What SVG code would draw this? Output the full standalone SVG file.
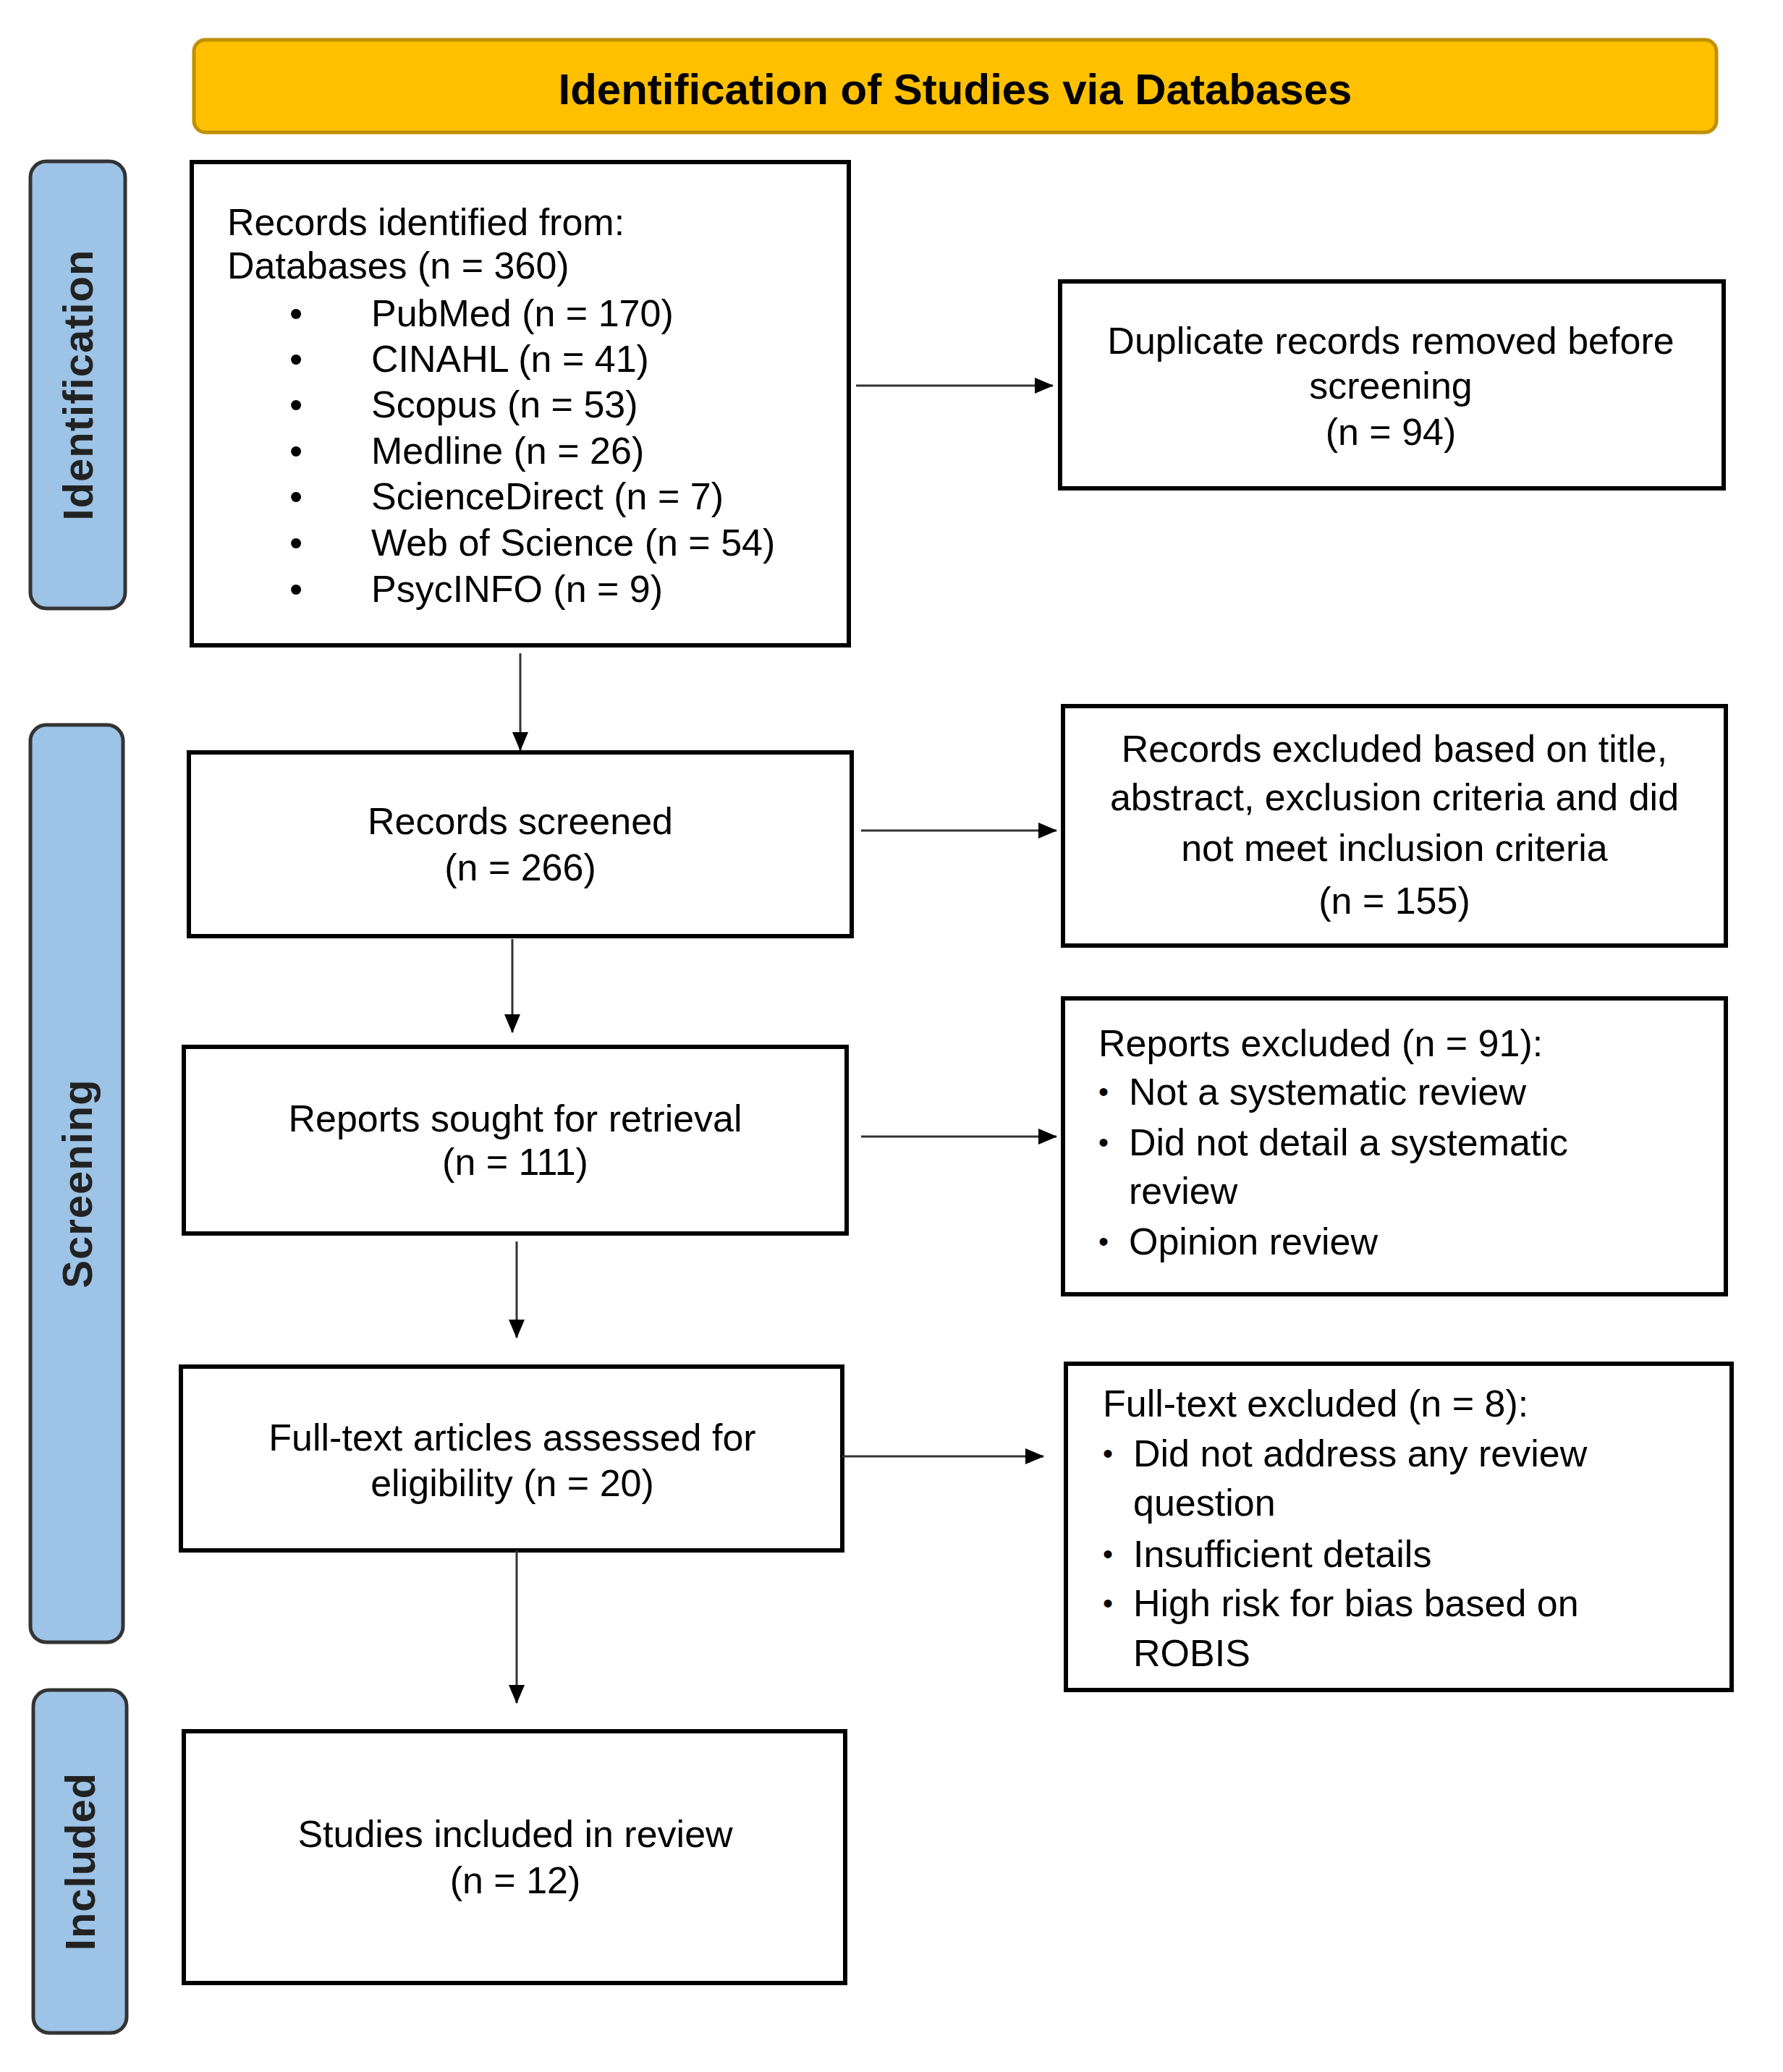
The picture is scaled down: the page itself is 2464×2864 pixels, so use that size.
<svg xmlns="http://www.w3.org/2000/svg" width="2464" height="2864" viewBox="0 0 2464 2864">
<style>
.box{fill:#fff;stroke:#000;stroke-width:6}
.side{fill:#9DC3E6;stroke:#333;stroke-width:5}
.t{font-family:"Liberation Sans",Arial,sans-serif;font-size:52px;fill:#000}
.c{text-anchor:middle}
.sl{font-family:"Liberation Sans",Arial,sans-serif;font-size:58px;font-weight:bold;fill:#222;text-anchor:middle;letter-spacing:1px}
.con{stroke:#333;stroke-width:3;fill:none;marker-end:url(#ah)}
.sb{font-size:40px}
</style>
<defs>
<marker id="ah" markerUnits="userSpaceOnUse" markerWidth="26" markerHeight="26" viewBox="0 0 26 26" refX="25" refY="13" orient="auto">
<path d="M0,2 L26,13 L0,24 Z" fill="#000"/>
</marker>
</defs>
<rect width="2464" height="2864" fill="#fff"/>
<g id="banner">
<rect x="268" y="55" width="2104" height="128" rx="16" fill="#FFC000" stroke="#BF9000" stroke-width="5"/>
<text x="1320" y="144" font-family="Liberation Sans,Arial,sans-serif" font-size="60" font-weight="bold" text-anchor="middle" fill="#000">Identification of Studies via Databases</text>
</g>
<g id="side-identification">
<rect class="side" x="42" y="223" width="131" height="618" rx="22"/>
<text class="sl" x="107" y="553" transform="rotate(-90 107 532)">Identification</text>
</g>
<g id="side-screening">
<rect class="side" x="42" y="1002" width="128" height="1268" rx="22"/>
<text class="sl" x="106" y="1657" transform="rotate(-90 106 1636)">Screening</text>
</g>
<g id="side-included">
<rect class="side" x="46" y="2336" width="129" height="474" rx="22"/>
<text class="sl" x="110" y="2594" transform="rotate(-90 110 2573)">Included</text>
</g>
<g id="records-identified">
<rect class="box" x="265" y="224" width="908" height="668"/>
<text class="t" x="314" y="325">Records identified from:</text>
<text class="t" x="314" y="385">Databases (n = 360)</text>
<text class="t" x="400" y="451">•</text><text class="t" x="513" y="451">PubMed (n = 170)</text>
<text class="t" x="400" y="514">•</text><text class="t" x="513" y="514">CINAHL (n = 41)</text>
<text class="t" x="400" y="577">•</text><text class="t" x="513" y="577">Scopus (n = 53)</text>
<text class="t" x="400" y="641">•</text><text class="t" x="513" y="641">Medline (n = 26)</text>
<text class="t" x="400" y="704">•</text><text class="t" x="513" y="704">ScienceDirect (n = 7)</text>
<text class="t" x="400" y="768">•</text><text class="t" x="513" y="768">Web of Science (n = 54)</text>
<text class="t" x="400" y="832">•</text><text class="t" x="513" y="832">PsycINFO (n = 9)</text>
</g>
<g id="duplicates">
<rect class="box" x="1465" y="389" width="917" height="286"/>
<text class="t c" x="1922" y="489">Duplicate records removed before</text>
<text class="t c" x="1922" y="551">screening</text>
<text class="t c" x="1922" y="615">(n = 94)</text>
</g>
<g id="records-screened">
<rect class="box" x="261" y="1040" width="916" height="254"/>
<text class="t c" x="719" y="1153">Records screened</text>
<text class="t c" x="719" y="1217">(n = 266)</text>
</g>
<g id="records-excluded">
<rect class="box" x="1469" y="976" width="916" height="331"/>
<text class="t c" x="1927" y="1053">Records excluded based on title,</text>
<text class="t c" x="1927" y="1120">abstract, exclusion criteria and did</text>
<text class="t c" x="1927" y="1190">not meet inclusion criteria</text>
<text class="t c" x="1927" y="1263">(n = 155)</text>
</g>
<g id="reports-sought">
<rect class="box" x="254" y="1447" width="916" height="258"/>
<text class="t c" x="712" y="1564">Reports sought for retrieval</text>
<text class="t c" x="712" y="1624">(n = 111)</text>
</g>
<g id="reports-excluded">
<rect class="box" x="1469" y="1380" width="916" height="409"/>
<text class="t" x="1518" y="1460">Reports excluded (n = 91):</text>
<text class="t sb" x="1518" y="1523">•</text><text class="t" x="1560" y="1527">Not a systematic review</text>
<text class="t sb" x="1518" y="1593">•</text><text class="t" x="1560" y="1597">Did not detail a systematic</text>
<text class="t" x="1560" y="1664">review</text>
<text class="t sb" x="1518" y="1730">•</text><text class="t" x="1560" y="1734">Opinion review</text>
</g>
<g id="fulltext-assessed">
<rect class="box" x="250" y="1889" width="914" height="254"/>
<text class="t c" x="708" y="2005">Full-text articles assessed for</text>
<text class="t c" x="708" y="2068">eligibility (n = 20)</text>
</g>
<g id="fulltext-excluded">
<rect class="box" x="1473" y="1885" width="920" height="451"/>
<text class="t" x="1524" y="1958">Full-text excluded (n = 8):</text>
<text class="t sb" x="1524" y="2023">•</text><text class="t" x="1566" y="2027">Did not address any review</text>
<text class="t" x="1566" y="2095">question</text>
<text class="t sb" x="1524" y="2162">•</text><text class="t" x="1566" y="2166">Insufficient details</text>
<text class="t sb" x="1524" y="2230">•</text><text class="t" x="1566" y="2234">High risk for bias based on</text>
<text class="t" x="1566" y="2303">ROBIS</text>
</g>
<g id="studies-included">
<rect class="box" x="254" y="2393" width="914" height="348"/>
<text class="t c" x="712" y="2553">Studies included in review</text>
<text class="t c" x="712" y="2617">(n = 12)</text>
</g>
<g id="connectors">
<line class="con" x1="1183" y1="533" x2="1455" y2="533"/>
<line class="con" x1="719" y1="903" x2="719" y2="1037"/>
<line class="con" x1="1190" y1="1148" x2="1460" y2="1148"/>
<line class="con" x1="708" y1="1298" x2="708" y2="1427"/>
<line class="con" x1="1190" y1="1571" x2="1460" y2="1571"/>
<line class="con" x1="714" y1="1716" x2="714" y2="1849"/>
<line class="con" x1="1164" y1="2013" x2="1442" y2="2013"/>
<line class="con" x1="714" y1="2143" x2="714" y2="2354"/>
</g>
</svg>
